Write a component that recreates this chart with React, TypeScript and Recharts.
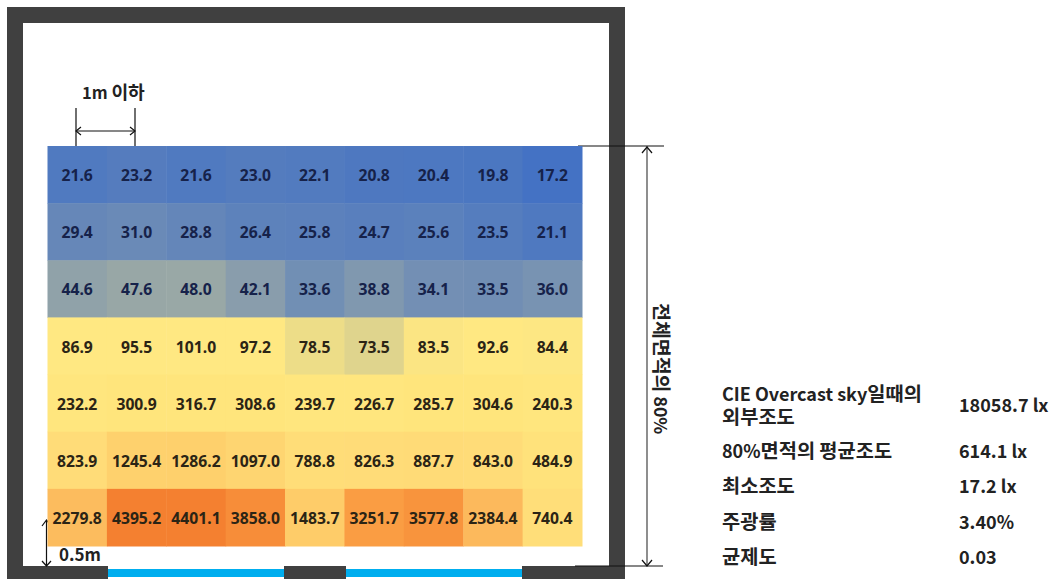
// Illuminance grid of a room, drawn as a heat map over the floor plan
import { ScatterChart, Scatter, XAxis, YAxis } from 'recharts'

const WIDTH = 1054
const HEIGHT = 579

// plot area of the grid, in page pixels
const GRID_LEFT = 47.5
const GRID_RIGHT = 582
const GRID_TOP = 146
const GRID_BOTTOM = 546

const columns = [0, 1, 2, 3, 4, 5, 6, 7, 8]

const row1 = [21.6, 23.2, 21.6, 23.0, 22.1, 20.8, 20.4, 19.8, 17.2]
const row2 = [29.4, 31.0, 28.8, 26.4, 25.8, 24.7, 25.6, 23.5, 21.1]
const row3 = [44.6, 47.6, 48.0, 42.1, 33.6, 38.8, 34.1, 33.5, 36.0]
const row4 = [86.9, 95.5, 101.0, 97.2, 78.5, 73.5, 83.5, 92.6, 84.4]
const row5 = [232.2, 300.9, 316.7, 308.6, 239.7, 226.7, 285.7, 304.6, 240.3]
const row6 = [823.9, 1245.4, 1286.2, 1097.0, 788.8, 826.3, 887.7, 843.0, 484.9]
const row7 = [2279.8, 4395.2, 4401.1, 3858.0, 1483.7, 3251.7, 3577.8, 2384.4, 740.4]
const rows = [row1, row2, row3, row4, row5, row6, row7]

const summaryValues = ['18058.7 lx', '614.1 lx', '17.2 lx', '3.40%', '0.03']

// value -> colour stops, read from the cells
const colorStops: [number, number[]][] = [
  [17.2, [68, 114, 196]],
  [85, [255, 232, 130]],
  [300, [255, 229, 124]],
  [850, [255, 220, 120]],
  [1300, [254, 208, 108]],
  [2300, [252, 188, 94]],
  [3300, [250, 155, 66]],
  [4400, [244, 128, 48]],
]

function cellColor(v: number) {
  for (let i = 1; i < colorStops.length; i++) {
    const [v0, c0] = colorStops[i - 1]
    const [v1, c1] = colorStops[i]
    if (v <= v1) {
      const t = Math.max(0, (v - v0) / (v1 - v0))
      const c = c0.map((ch, k) => Math.round(ch + (c1[k] - ch) * t))
      return `rgb(${c.join(',')})`
    }
  }
  return 'rgb(244,128,48)'
}

const cellData = rows.flatMap((row, r) =>
  columns.map(c => ({ x: c + 0.5, y: r + 0.5, value: row[c] }))
)

const CELL_W = (GRID_RIGHT - GRID_LEFT) / columns.length
const CELL_H = (GRID_BOTTOM - GRID_TOP) / rows.length

const LATIN = '"Noto Sans", "Noto Sans CJK KR", sans-serif'
const KOREAN = '"Noto Sans CJK KR", "Noto Sans", sans-serif'
const WALL = '#404040'

function HeatCell(props: any) {
  const { cx, cy, payload } = props
  const v = payload.value
  return (
    <g>
      <rect x={cx - CELL_W / 2} y={cy - CELL_H / 2} width={CELL_W + 0.5} height={CELL_H + 0.5} fill={cellColor(v)} />
      <text
        x={cx}
        y={cy + 6.5}
        textAnchor="middle"
        fontFamily={LATIN}
        fontWeight={700}
        fontSize={15.7}
        fill={v < 60 ? '#16224a' : '#2b2415'}
      >
        {v.toFixed(1)}
      </text>
    </g>
  )
}

// hangul runs are set a little larger than the latin ones
function runs(text: string, size: number) {
  return text.split(/([\uac00-\ud7a3]+)/).filter(Boolean).map((part, i) => (
    <tspan key={i} fontSize={/[\uac00-\ud7a3]/.test(part) ? size * 1.1 : size}>{part}</tspan>
  ))
}

function Label({ x, y, text, size = 18 }: any) {
  return (
    <text x={x} y={y} fontFamily={KOREAN} fontWeight={700} fontSize={size} fill="#222">
      {runs(text, size)}
    </text>
  )
}

export default function App() {
  return (
    <div style={{ position: 'absolute', left: 0, top: 0, width: WIDTH, height: HEIGHT, background: '#fff' }}>
      <ScatterChart
        width={WIDTH}
        height={HEIGHT}
        margin={{ left: GRID_LEFT, right: WIDTH - GRID_RIGHT, top: GRID_TOP, bottom: HEIGHT - GRID_BOTTOM }}
      >
        <XAxis type="number" dataKey="x" domain={[0, columns.length]} hide />
        <YAxis type="number" dataKey="y" domain={[0, rows.length]} reversed hide />

        {/* walls and windows */}
        <rect x={7} y={7} width={618} height={16} fill={WALL} />
        <rect x={7} y={7} width={16} height={572} fill={WALL} />
        <rect x={609} y={7} width={16} height={572} fill={WALL} />
        <rect x={7} y={566} width={618} height={13} fill={WALL} />
        <rect x={108} y={569} width={176} height={8} fill="#00AEEF" />
        <rect x={108} y={577} width={176} height={2} fill="#fff" />
        <rect x={346} y={569} width={176} height={8} fill="#00AEEF" />
        <rect x={346} y={577} width={176} height={2} fill="#fff" />
        <rect x={108} y={566} width={176} height={3} fill="#fff" />
        <rect x={346} y={566} width={176} height={3} fill="#fff" />

        <Scatter data={cellData} isAnimationActive={false} shape={HeatCell} />

        <g stroke="#111" strokeWidth={1.2} fill="none">
          {/* 1m dimension */}
          <path d="M76 108V146M135 108V146M76 131H135" />
          <path d="M81 127L76 131L81 135M130 127L135 131L130 135" />
          {/* 0.5m dimension */}
          <path d="M46.5 521V566M42 526L46.5 520L51 526M42 561L46.5 566L51 561" />
          {/* 80% dimension */}
          <path d="M578 146H664M575 566H663" />
          <path d="M647 146V566" stroke="#444" />
          <path d="M642 153L647 147L652 153M642 560L647 566L652 560" />
        </g>

        <Label x={82} y={99} text="1m 이하" size={16.5} />
        <Label x={59} y={561} text="0.5m" size={17} />
        <g transform="translate(654 303) rotate(90)">
          <Label x={0} y={0} text="전체면적의 80%" size={17.7} />
        </g>

        {/* summary table */}
        <Label x={722} y={401} text="CIE Overcast sky일때의" />
        <Label x={722} y={424} text="외부조도" />
        <Label x={722} y={458} text="80%면적의 평균조도" />
        <Label x={722} y={493} text="최소조도" />
        <Label x={722} y={529} text="주광률" />
        <Label x={722} y={564} text="균제도" />
        {summaryValues.map((s, i) => (
          <Label key={s} x={959} y={[412, 458, 493, 529, 564][i]} text={s} />
        ))}
      </ScatterChart>
    </div>
  )
}
